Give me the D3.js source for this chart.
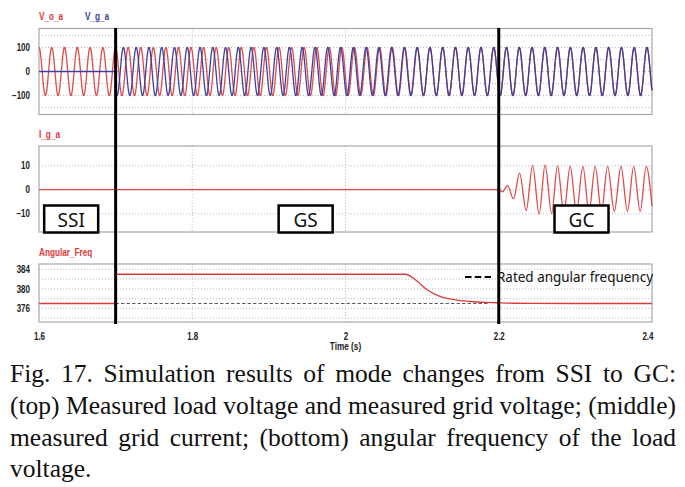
<!DOCTYPE html>
<html>
<head>
<meta charset="utf-8">
<script src="https://cdn.jsdelivr.net/npm/d3@7"></script>
<style>
body{margin:0;background:#fff;}
svg{display:block;}
.axl text{font-family:"Liberation Sans Narrow","Arial Narrow","Liberation Sans",sans-serif;font-weight:bold;font-size:10px;fill:#222;}
.lbl{font-family:"Liberation Sans Narrow","Arial Narrow","Liberation Sans",sans-serif;font-weight:bold;font-size:10px;}
</style>
</head>
<body>
<svg id="fig" width="685" height="487"></svg>
<script>
// time axis + mode switching instants
const timeTicks = [1.6, 1.8, 2, 2.2, 2.4];
const timeGrid = [1.8, 2, 2.2];
const modeSwitch = [1.7, 2.2];
const modeNames = ["SSI", "GS", "GC"];
const modeCenter = [1.642, 1.948, 2.308];

// angular frequency of the load voltage (rad/s)
const freqT = [1.6, 1.7, 1.7, 2.078, 2.094, 2.107, 2.124, 2.146, 2.168, 2.198, 2.22, 2.3, 2.4];
const freqW = [377, 377, 383, 383, 381.5, 379.75, 378.4, 377.7, 377.35, 377.15, 377.05, 377, 377];
const ratedT = [1.7, 2.186];
const ratedW = [377, 377];

// voltages (top panel)
const voltAmp = 100;
const gridOn = 1.7;
const gridW = 377;
const gridPhase = 2.45;

// grid current I_g_a : turning points
const igT = [1.6, 2.2, 2.2048, 2.2115, 2.2192, 2.2272, 2.2358, 2.2442, 2.2527, 2.2605, 2.269, 2.2767,
  2.285, 2.2932, 2.3015, 2.3098, 2.3178, 2.3259, 2.334, 2.3421, 2.3508, 2.3595, 2.368, 2.3761,
  2.3846, 2.3925, 2.4];
const igV = [0, 0, -0.9, 1.8, -3.8, 6.9, -8.7, 10, -10.1, 10.3, -9.9, 9.9,
  -9.5, 9.8, -9.3, 9.7, -9.2, 9.7, -9.1, 9.7, -9, 9.7, -9, 9.7,
  -9, 9.7, -6.8];

const voltTicks = [-100, 0, 100];
const voltGrid = [-150, -100, -50, 0, 50, 100, 150];
const curTicks = [-10, 0, 10];
const curGrid = [-10, 0, 10];
const freqTicks = [376, 380, 384];
const freqGrid = [374, 376, 378, 380, 382, 384];

const captionLines = [
  "Fig. 17. Simulation results of mode changes from SSI to GC:",
  "(top) Measured load voltage and measured grid voltage; (middle)",
  "measured grid current; (bottom) angular frequency of the load",
  "voltage."
];

const RED = "#e24a4c", BLUE = "#3d409c";
const svg = d3.select("#fig");
const L = 39, R = 652;
const x = d3.scaleLinear().domain([1.6, 2.4]).range([L, R]);

const yV = d3.scaleLinear().domain([-179, 179]).range([114.5, 28.5]);
const yI = d3.scaleLinear().domain([-17.6, 18.2]).range([232, 146]);
const yW = d3.scaleLinear().domain([373.2, 385.1]).range([322, 264]);

// squeeze a text horizontally (no narrow face installed)
function narrow(sel, k) {
  sel.each(function() {
    const w = this.getComputedTextLength();
    d3.select(this).attr("textLength", w * k).attr("lengthAdjust", "spacingAndGlyphs");
  });
}

function panel(y, ticks, grid) {
  const g = svg.append("g");
  const [b, t] = y.range();
  // dotted grid
  g.selectAll(".hg").data(grid).join("line")
    .attr("x1", L).attr("x2", R)
    .attr("y1", d => y(d)).attr("y2", d => y(d))
    .attr("stroke", "#bcbcbc").attr("stroke-dasharray", "1,2");
  g.selectAll(".vg").data(timeGrid).join("line")
    .attr("x1", d => x(d)).attr("x2", d => x(d))
    .attr("y1", t).attr("y2", b)
    .attr("stroke", "#bcbcbc").attr("stroke-dasharray", "1,2");
  g.append("rect").attr("x", L).attr("y", t).attr("width", R - L).attr("height", b - t)
    .attr("fill", "none").attr("stroke", "#a9a9a9").attr("stroke-width", 1.2);
  const ax = svg.append("g").attr("class", "axl").attr("transform", "translate(32,0)")
    .call(d3.axisLeft(y).tickValues(ticks).tickSize(0).tickPadding(2).tickFormat(d3.format("d")));
  ax.select(".domain").remove();
  narrow(ax.selectAll("text"), 0.8);
  return g;
}

const gV = panel(yV, voltTicks, voltGrid);
const gI = panel(yI, curTicks, curGrid);
const gW = panel(yW, freqTicks, freqGrid);

// angular frequency lookup (piecewise linear between read points)
function wAt(t) {
  for (let i = 0; i < freqT.length - 1; i++) {
    if (t >= freqT[i] && t < freqT[i + 1] && freqT[i + 1] > freqT[i]) {
      const f = (t - freqT[i]) / (freqT[i + 1] - freqT[i]);
      return freqW[i] + f * (freqW[i + 1] - freqW[i]);
    }
  }
  return freqW[freqW.length - 1];
}

// load voltage follows the measured angular frequency, grid voltage is fixed 377 rad/s
const dt = 0.00005;
const vo = [], vg = [];
let th = 0;
for (let t = 1.6; t <= 2.4 + 1e-9; t += dt) {
  vo.push({t: t, v: voltAmp * Math.cos(th)});
  vg.push({t: t, v: t < gridOn ? 0 : voltAmp * Math.cos(gridW * (t - gridOn) + gridPhase)});
  th += wAt(t + dt / 2) * dt;
}

const lineV = d3.line().x(d => x(d.t)).y(d => yV(d.v));
gV.append("path").datum(vo).attr("d", lineV).attr("fill", "none")
  .attr("stroke", RED).attr("stroke-width", 1.3);
gV.append("path").datum(vg).attr("d", lineV).attr("fill", "none")
  .attr("stroke", BLUE).attr("stroke-width", 1.3);

const igData = igT.map((t, i) => ({t: t, v: igV[i]}));
gI.append("path").datum(igData)
  .attr("d", d3.line().x(d => x(d.t)).y(d => yI(d.v)).curve(d3.curveMonotoneX))
  .attr("fill", "none").attr("stroke", RED).attr("stroke-width", 1.3);

// rated angular frequency (dashed) and measured angular frequency
gW.append("path").datum(ratedT.map((t, i) => ({t: t, v: ratedW[i]})))
  .attr("d", d3.line().x(d => x(d.t)).y(d => yW(d.v)))
  .attr("stroke", "#555").attr("stroke-width", 1).attr("stroke-dasharray", "3.3,2.2");
const freqData = freqT.map((t, i) => ({t: t, v: freqW[i]}));
gW.append("path").datum(freqData)
  .attr("d", d3.line().x(d => x(d.t)).y(d => yW(d.v)).curve(d3.curveMonotoneX))
  .attr("fill", "none").attr("stroke", "#dc3a3a").attr("stroke-width", 1.3);

// legend
gW.append("line").attr("x1", 465).attr("x2", 491).attr("y1", 277).attr("y2", 277)
  .attr("stroke", "#000").attr("stroke-width", 2).attr("stroke-dasharray", "6.5,3.3");
gW.append("text").attr("x", 497).attr("y", 281.5)
  .attr("font-family", "'Noto Sans', 'Open Sans', sans-serif").attr("font-size", 14.5)
  .attr("textLength", 156).attr("lengthAdjust", "spacingAndGlyphs")
  .attr("fill", "#111").text("Rated angular  frequency");

// series labels
const labs = svg.append("g");
labs.append("text").attr("class", "lbl").attr("x", 39).attr("y", 19.5).attr("fill", "#e03a3a").text("V_o_a");
labs.append("text").attr("class", "lbl").attr("x", 85).attr("y", 19.5).attr("fill", BLUE).text("V_g_a");
labs.append("text").attr("class", "lbl").attr("x", 39).attr("y", 138).attr("fill", "#e03a3a").text("I_g_a");
labs.append("text").attr("class", "lbl").attr("x", 39).attr("y", 255.5).attr("fill", "#e03a3a").text("Angular_Freq");
narrow(labs.selectAll("text"), 0.82);

// time axis
const xa = svg.append("g").attr("class", "axl").attr("transform", "translate(0,331)")
  .call(d3.axisBottom(x).tickValues(timeTicks).tickSize(0).tickPadding(0).tickFormat(d3.format("")));
xa.select(".domain").remove();
xa.selectAll("text").attr("dy", "8.5")
  .attr("text-anchor", d => d === 2.4 ? "end" : "middle")
  .attr("dx", d => d === 2.4 ? 1 : 0);
narrow(xa.selectAll("text"), 0.8);
const tl = svg.append("text").attr("class", "lbl").attr("x", x(2)).attr("y", 349.5)
  .attr("text-anchor", "middle").attr("font-size", 8.5).attr("fill", "#222").text("Time (s)");
narrow(tl, 0.82);

// mode switching lines
svg.selectAll(".sw").data(modeSwitch).join("line")
  .attr("x1", d => x(d)).attr("x2", d => x(d)).attr("y1", 28).attr("y2", 324)
  .attr("stroke", "#000").attr("stroke-width", 3);

// mode boxes
const mb = svg.selectAll(".mb").data(modeNames).join("g")
  .attr("transform", (d, i) => `translate(${x(modeCenter[i])},219)`);
mb.append("rect").attr("x", -27).attr("y", -13.5).attr("width", 54).attr("height", 27)
  .attr("fill", "#fff").attr("stroke", "#000").attr("stroke-width", 2.5);
mb.append("text").attr("text-anchor", "middle").attr("y", 7.5)
  .attr("font-family", "'Noto Sans', 'Open Sans', sans-serif").attr("font-size", 19)
  .attr("fill", "#111").text(d => d);

// caption, justified
const capBase = [382, 414, 446, 477];
const capL = 10, capR = 676;
captionLines.forEach((s, i) => {
  const t = svg.append("text").attr("x", capL).attr("y", capBase[i])
    .attr("font-family", "'Liberation Serif', 'Times New Roman', serif").attr("font-size", 25.5)
    .attr("fill", "#111").text(s);
  if (i < captionLines.length - 1) {
    const w = t.node().getComputedTextLength();
    const gaps = s.split(" ").length - 1;
    t.attr("word-spacing", (capR - capL - w) / gaps);
  }
});
</script>
</body>
</html>
